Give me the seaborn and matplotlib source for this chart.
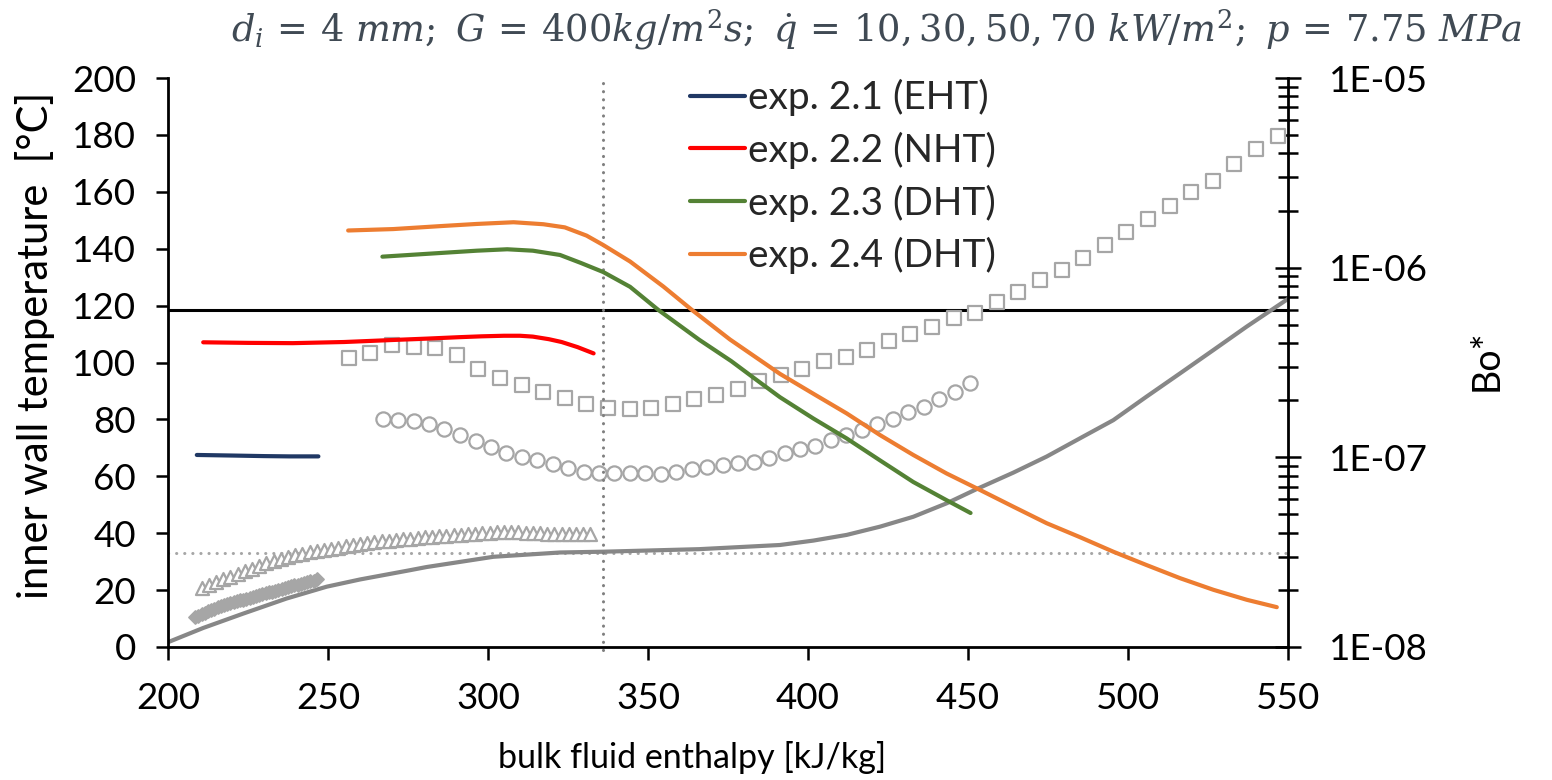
import matplotlib
matplotlib.use('Agg')
import matplotlib.pyplot as plt
import matplotlib.ticker as mticker
from matplotlib.lines import Line2D
import numpy as np
import seaborn as sns

sns.set_theme(style='white')
plt.rcParams['font.family'] = ['Lato', 'DejaVu Sans']
plt.rcParams['mathtext.fontset'] = 'dejavuserif'

# ---------------- data ----------------
# inner wall temperature [°C] vs bulk fluid enthalpy [kJ/kg]
h_21 = [209, 220, 230, 238, 247]
T_21 = [67.5, 67.3, 67.1, 67.0, 67.0]

h_22 = [211, 225, 239, 255, 270, 281, 291, 298, 305, 310, 314, 319, 323, 328, 333]
T_22 = [107.1, 106.9, 106.8, 107.2, 107.9, 108.4, 108.9, 109.2, 109.4, 109.4, 109.1, 108.2, 107.2, 105.4, 103.2]

h_23 = [267, 281, 296.5, 306, 314, 322.5, 329, 336, 344.4, 353.2, 366, 376, 384, 391.25,
        401.7, 412.1, 422.5, 432.9, 443.3, 450.8]
T_23 = [137.2, 138.2, 139.3, 139.8, 139.3, 137.8, 135.0, 131.8, 126.6, 118.5, 108.0, 100.5, 93.8, 87.8,
        80.3, 73.3, 65.6, 58.0, 51.6, 47.1]

h_24 = [256.3, 270.4, 286, 296.5, 308, 317.3, 324, 330.8, 336, 344.4, 354.8, 363.7, 375.6, 391.25,
        401.7, 412.1, 422.5, 432.9, 443.3, 453.75, 464.2, 474.6, 485, 495.4, 505.8, 516.25, 526.7,
        537.1, 546.5]
T_24 = [146.4, 146.9, 148.0, 148.7, 149.3, 148.6, 147.5, 144.6, 141.3, 135.5, 126.7, 118.5, 108.1, 96.0,
        89.0, 82.1, 74.5, 67.5, 61.0, 55.2, 49.3, 43.5, 38.6, 33.5, 28.8, 24.2, 20.1,
        16.6, 14.0]

# Bo* (right axis, log)
h_dia = [208.5, 209.5, 210.5, 211.5, 212.5, 213.5, 214.5, 215.5, 216.5, 217.5, 218.5, 219.5, 220.5,
         221.5, 222.5, 223.5, 224.5, 225.5, 226.5, 227.5, 228.5, 229.5, 230.5, 231.5, 232.5, 233.5,
         234.5, 235.5, 236.5, 237.5, 238.5, 239.5, 240.5, 241.5, 242.5, 243.5, 244.5, 245.5, 246.5]
bo_dia = [1.44e-8, 1.46e-8, 1.49e-8, 1.52e-8, 1.55e-8, 1.57e-8, 1.59e-8, 1.62e-8, 1.64e-8, 1.66e-8,
          1.68e-8, 1.70e-8, 1.72e-8, 1.74e-8, 1.76e-8, 1.78e-8, 1.80e-8, 1.82e-8, 1.84e-8, 1.86e-8,
          1.88e-8, 1.90e-8, 1.92e-8, 1.94e-8, 1.96e-8, 1.98e-8, 2.00e-8, 2.02e-8, 2.04e-8, 2.07e-8,
          2.09e-8, 2.11e-8, 2.13e-8, 2.15e-8, 2.18e-8, 2.20e-8, 2.22e-8, 2.24e-8, 2.27e-8]

h_tri = [210.5, 212.75, 215.0, 217.25, 219.5, 221.75, 224.0, 226.25, 228.5, 230.75, 233.0, 235.25,
         237.5, 239.75, 242.0, 244.25, 246.5, 248.75, 251.0, 253.25, 255.5, 257.75, 260.0, 262.25,
         264.5, 266.75, 269.0, 271.25, 273.5, 275.75, 278.0, 280.25, 282.5, 284.75, 287.0, 289.25,
         291.5, 293.75, 296.0, 298.25, 300.5, 302.75, 305.0, 307.25, 309.5, 311.75, 314.0, 316.25,
         318.5, 320.75, 323.0, 325.25, 327.5, 329.75, 332.0]
bo_tri = [2.04e-8, 2.12e-8, 2.19e-8, 2.27e-8, 2.35e-8, 2.42e-8, 2.51e-8, 2.59e-8, 2.68e-8, 2.76e-8,
          2.84e-8, 2.92e-8, 2.98e-8, 3.04e-8, 3.09e-8, 3.15e-8, 3.19e-8, 3.24e-8, 3.28e-8, 3.34e-8,
          3.39e-8, 3.43e-8, 3.48e-8, 3.52e-8, 3.57e-8, 3.60e-8, 3.64e-8, 3.68e-8, 3.70e-8, 3.73e-8,
          3.77e-8, 3.79e-8, 3.82e-8, 3.85e-8, 3.87e-8, 3.90e-8, 3.91e-8, 3.94e-8, 3.95e-8, 3.98e-8,
          4.00e-8, 4.02e-8, 4.05e-8, 4.04e-8, 4.02e-8, 4.01e-8, 3.98e-8, 3.97e-8, 3.95e-8, 3.94e-8,
          3.94e-8, 3.93e-8, 3.93e-8, 3.94e-8, 3.95e-8]

h_cir = [267.1, 271.9, 276.8, 281.6, 286.4, 291.2, 296.1, 300.9, 305.7, 310.6, 315.4, 320.2, 325.1,
         329.9, 334.7, 339.5, 344.4, 349.2, 354.0, 358.9, 363.7, 368.5, 373.4, 378.2, 383.0, 387.9,
         392.7, 397.5, 402.3, 407.2, 412.0, 416.8, 421.7, 426.5, 431.3, 436.2, 441.0, 445.8, 450.6]
bo_cir = [1.60e-7, 1.58e-7, 1.56e-7, 1.49e-7, 1.41e-7, 1.31e-7, 1.22e-7, 1.13e-7, 1.06e-7, 1.01e-7,
          9.64e-8, 9.18e-8, 8.81e-8, 8.39e-8, 8.28e-8, 8.25e-8, 8.25e-8, 8.31e-8, 8.17e-8, 8.34e-8,
          8.66e-8, 8.84e-8, 9.09e-8, 9.38e-8, 9.47e-8, 9.87e-8, 1.05e-7, 1.11e-7, 1.15e-7, 1.24e-7,
          1.31e-7, 1.40e-7, 1.49e-7, 1.59e-7, 1.73e-7, 1.85e-7, 2.03e-7, 2.22e-7, 2.46e-7]

h_sq = [256.5, 263.25, 270.0, 276.75, 283.5, 290.25, 297.0, 303.75, 310.5, 317.25, 324.0, 330.75,
        337.5, 344.25, 351.0, 357.75, 364.5, 371.25, 378.0, 384.75, 391.5, 398.25, 405.0, 411.75,
        418.5, 425.25, 432.0, 438.75, 445.5, 452.25, 459.0, 465.75, 472.5, 479.25, 486.0, 492.75,
        499.5, 506.25, 513.0, 519.75, 526.5, 533.25, 540.0, 546.75]
bo_sq = [3.33e-7, 3.53e-7, 3.92e-7, 3.80e-7, 3.78e-7, 3.47e-7, 2.92e-7, 2.61e-7, 2.40e-7, 2.22e-7,
         2.05e-7, 1.92e-7, 1.81e-7, 1.79e-7, 1.81e-7, 1.92e-7, 2.04e-7, 2.13e-7, 2.29e-7, 2.54e-7,
         2.72e-7, 2.93e-7, 3.22e-7, 3.39e-7, 3.68e-7, 4.13e-7, 4.45e-7, 4.89e-7, 5.42e-7, 5.79e-7,
         6.60e-7, 7.47e-7, 8.61e-7, 9.72e-7, 1.12e-6, 1.32e-6, 1.54e-6, 1.80e-6, 2.11e-6, 2.50e-6,
         2.88e-6, 3.52e-6, 4.22e-6, 4.96e-6]

h_grey = [200, 211, 223.5, 237, 249.6, 260, 275.6, 280.8, 301.7, 322.5, 336, 366, 391.25, 401.7,
          412.1, 422.5, 432.9, 443.3, 452.7, 464.2, 474.6, 485.0, 495.4, 505.8, 516.25, 526.7,
          537.1, 550.3]
bo_grey = [1.06e-8, 1.26e-8, 1.50e-8, 1.80e-8, 2.08e-8, 2.27e-8, 2.54e-8, 2.64e-8, 2.99e-8, 3.15e-8,
           3.18e-8, 3.28e-8, 3.45e-8, 3.64e-8, 3.90e-8, 4.31e-8, 4.86e-8, 5.72e-8, 6.80e-8, 8.31e-8,
           1.01e-7, 1.26e-7, 1.57e-7, 2.09e-7, 2.77e-7, 3.68e-7, 4.89e-7, 6.90e-7]

bo_limit = 6e-7
bo_dotted = 3.13e-8
h_pc = 336

labels = ['exp. 2.1 (EHT)', 'exp. 2.2 (NHT)', 'exp. 2.3 (DHT)', 'exp. 2.4 (DHT)']
colors = ['#203864', '#FF0000', '#548235', '#ED7D31']

# ---------------- figure ----------------
W, H = 1552, 780
fig = plt.figure(figsize=(W / 100, H / 100), dpi=100)
ax = fig.add_axes([168 / W, 1 - 647 / H, 1120 / W, 569 / H])
ax2 = ax.twinx()
ax.set_zorder(ax2.get_zorder() + 1)
ax.patch.set_visible(False)

grey_m = '#A6A6A6'
ax2.set_yscale('log')
ax2.axhline(bo_limit, color='black', lw=2.2, zorder=1)
ax2.axhline(bo_dotted, color='#A6A6A6', lw=2.2, ls=(0, (0.05, 2.6)), dash_capstyle='round', zorder=1)
sns.lineplot(x=h_grey, y=bo_grey, ax=ax2, color='#878787', lw=3.0, zorder=2)
sns.scatterplot(x=h_dia, y=bo_dia, ax=ax2, marker='D', s=45, color=grey_m, edgecolor=grey_m,
                linewidth=1.2, zorder=3)
sns.scatterplot(x=h_tri, y=bo_tri, ax=ax2, marker='^', s=88, color='white', edgecolor=grey_m,
                linewidth=1.6, zorder=3)
sns.scatterplot(x=h_cir, y=bo_cir, ax=ax2, marker='o', s=105, color='white', edgecolor=grey_m,
                linewidth=1.6, zorder=3)
sns.scatterplot(x=h_sq, y=bo_sq, ax=ax2, marker='s', s=100, color='white', edgecolor=grey_m,
                linewidth=1.6, zorder=3)
ax2.set_ylim(1e-8, 1e-5)

ax.plot([h_pc, h_pc], [-1, 199.5], color='#7F7F7F', lw=2.2, ls=(0, (0.05, 2.6)),
        dash_capstyle='round', clip_on=False, zorder=2)
for hx, ty, c, lab in zip([h_21, h_22, h_23, h_24], [T_21, T_22, T_23, T_24], colors, labels):
    sns.lineplot(x=hx, y=ty, ax=ax, color=c, lw=3.0, label=lab, zorder=4)

ax.set_xlim(200, 550)
ax.set_ylim(0, 200)
ax.set_xticks(np.arange(200, 551, 50))
ax.set_yticks(np.arange(0, 201, 20))
ax.set_xlabel('')
ax.set_ylabel('')
ax2.set_ylabel('')

for s in ['top', 'right']:
    ax.spines[s].set_visible(False)
for s in ['top', 'left', 'bottom']:
    ax2.spines[s].set_visible(False)
for s in ['left', 'bottom']:
    ax.spines[s].set_color('black')
    ax.spines[s].set_linewidth(2.0)
ax2.spines['right'].set_color('black')
ax2.spines['right'].set_linewidth(2.0)

ax.tick_params(axis='both', which='major', direction='out', length=9, width=1.8, color='black',
               labelsize=26.5, labelcolor='black', left=True, bottom=True)
ax.tick_params(axis='y', pad=14)
ax.tick_params(axis='x', pad=16)
ax2.yaxis.set_major_locator(mticker.LogLocator(base=10, numticks=10))
ax2.yaxis.set_minor_locator(mticker.LogLocator(base=10, subs=np.arange(2, 10), numticks=100))
ax2.yaxis.set_minor_formatter(mticker.NullFormatter())
ax2.yaxis.set_major_formatter(mticker.FuncFormatter(lambda v, p: '1E-%02d' % int(round(-np.log10(v)))))
ax2.tick_params(axis='y', which='major', direction='inout', length=19, width=1.8, color='black',
                labelsize=26.5, labelcolor='black', right=True, pad=20)
ax2.tick_params(axis='y', which='minor', direction='inout', length=14, width=1.8, color='black', right=True)

handles = [Line2D([], [], color=c, lw=3.0) for c in colors]
ax.legend(handles, labels, loc='upper left', bbox_to_anchor=(690 / W, 1 - 79 / H),
          bbox_transform=fig.transFigure, frameon=False, fontsize=28, handlelength=1.41,
          handletextpad=0.08, labelspacing=0.4, borderpad=0, borderaxespad=0)

fig.text(35 / W, 1 - 345 / H, 'inner wall temperature  [°C]', rotation=90, ha='center', va='center',
         fontsize=30, color='black')
fig.text(1487 / W, 1 - 360 / H, 'Bo*', rotation=90, ha='center', va='center', fontsize=27, color='black')
fig.text(692 / W, 1 - 757 / H, 'bulk fluid enthalpy [kJ/kg]', ha='center', va='center', fontsize=24.5,
         color='black')
title = r'$d_i\,=\,4\ mm;\ G\,=\,400kg/m^2s;\ \dot{q}\,=\,10,30,50,70\ kW/m^2;\ p\,=\,7.75\ MPa$'
fig.text(231 / W, 1 - 41 / H, title, ha='left', va='baseline', fontsize=26.5, color='#404A54')

fig.savefig('out.png', dpi=100)
